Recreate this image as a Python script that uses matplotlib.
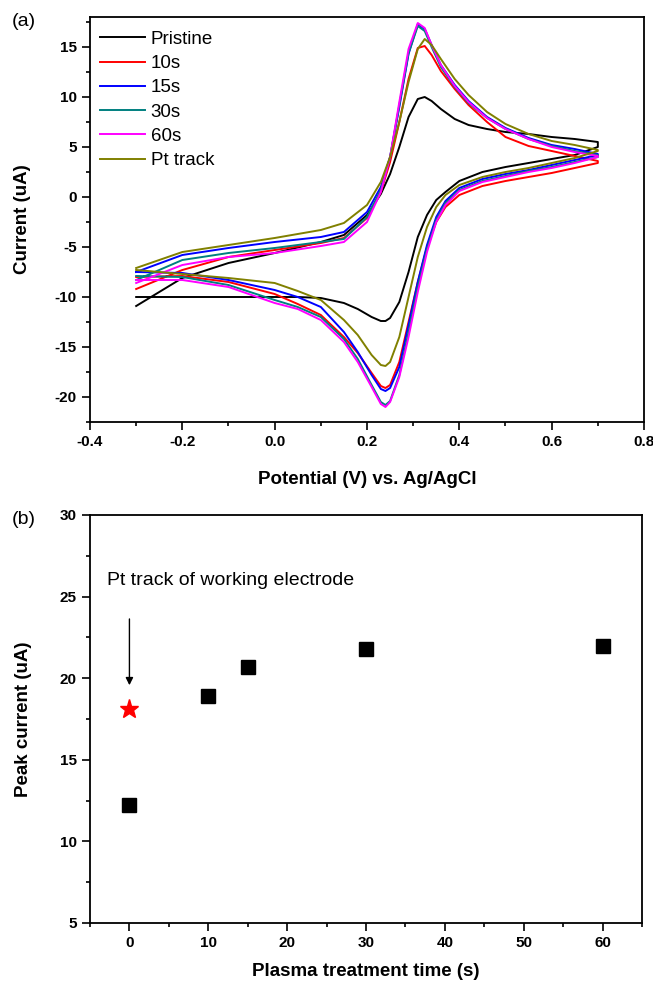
import matplotlib
matplotlib.use("Agg")
import matplotlib.pyplot as plt
from matplotlib.ticker import MultipleLocator

plt.rcParams['font.family'] = ['Liberation Sans', 'DejaVu Sans']

# ---------------- Panel (a): cyclic voltammograms ----------------
labels = ["Pristine", "10s", "15s", "30s", "60s", "Pt track"]
colors = ["#000000", "#FF0000", "#0000FF", "#008080", "#FF00FF", "#808000"]

# forward (anodic) scan potentials
fwd_x = [-0.3, -0.2, -0.1, 0.0, 0.1, 0.15, 0.2, 0.23, 0.25, 0.27, 0.29, 0.31,
         0.325, 0.34, 0.36, 0.39, 0.42, 0.46, 0.50, 0.55, 0.60, 0.65, 0.70]
# reverse (cathodic) scan potentials
rev_x = [0.70, 0.65, 0.60, 0.55, 0.50, 0.45, 0.40, 0.37, 0.35, 0.33, 0.31, 0.29,
         0.27, 0.25, 0.24, 0.23, 0.21, 0.18, 0.15, 0.10, 0.05, 0.0, -0.1, -0.2, -0.3]

pristine_fwd = [-10.9, -8.1, -6.6, -5.6, -4.5, -3.8, -1.8, 0.3, 2.3, 5.0, 8.0, 9.8,
                10.0, 9.6, 8.8, 7.8, 7.2, 6.8, 6.5, 6.3, 6.0, 5.8, 5.5]
pristine_rev = [5.0, 4.2, 3.8, 3.4, 3.0, 2.5, 1.6, 0.5, -0.3, -1.8, -4.0, -7.5,
                -10.5, -12.1, -12.4, -12.4, -12.0, -11.2, -10.6, -10.1, -10.0, -10.0, -10.0, -10.0, -10.0]

s10_fwd = [-9.2, -7.3, -6.0, -5.3, -4.6, -4.1, -2.1, 0.5, 3.5, 7.5, 11.8, 14.9,
           15.1, 14.2, 12.6, 10.8, 9.2, 7.5, 6.0, 5.1, 4.6, 4.1, 3.6]
s10_rev = [3.4, 2.9, 2.4, 2.0, 1.6, 1.1, 0.2, -1.0, -2.5, -5.0, -8.5, -12.5,
           -16.5, -18.8, -19.1, -18.9, -17.6, -15.6, -14.0, -11.8, -10.7, -9.7, -8.5, -7.9, -8.0]

s15_fwd = [-7.5, -5.8, -5.1, -4.5, -4.0, -3.5, -1.5, 1.0, 4.0, 9.0, 14.3, 17.3,
           16.8, 15.2, 13.2, 11.2, 9.6, 8.0, 6.9, 5.9, 5.2, 4.8, 4.3]
s15_rev = [4.2, 3.7, 3.2, 2.7, 2.3, 1.8, 0.9, -0.4, -2.0, -4.8, -8.5, -12.8,
           -17.0, -19.1, -19.4, -19.2, -17.8, -15.5, -13.5, -11.0, -10.0, -9.3, -8.3, -7.6, -7.5]

s30_fwd = [-8.3, -6.3, -5.6, -5.1, -4.5, -4.2, -2.0, 0.7, 4.0, 9.2, 14.4, 17.1,
           16.6, 15.0, 13.0, 11.0, 9.4, 7.9, 6.8, 5.8, 5.1, 4.6, 4.2]
s30_rev = [4.0, 3.5, 3.0, 2.6, 2.1, 1.6, 0.7, -0.6, -2.3, -5.2, -9.0, -13.5,
           -17.8, -20.4, -20.8, -20.5, -18.8, -16.2, -14.2, -12.0, -11.0, -10.3, -8.8, -8.0, -7.9]

s60_fwd = [-8.6, -6.8, -6.0, -5.6, -4.9, -4.5, -2.5, 0.5, 4.0, 9.5, 14.8, 17.4,
           16.9, 15.2, 13.2, 11.1, 9.5, 7.9, 6.8, 5.8, 5.0, 4.5, 4.1]
s60_rev = [4.0, 3.4, 2.9, 2.5, 2.0, 1.5, 0.6, -0.8, -2.5, -5.5, -9.5, -14.0,
           -18.0, -20.5, -21.0, -20.7, -19.0, -16.5, -14.5, -12.3, -11.2, -10.6, -9.0, -8.3, -8.3]

pt_fwd = [-7.1, -5.5, -4.8, -4.1, -3.3, -2.6, -0.8, 1.5, 4.0, 7.5, 11.5, 14.8,
          15.8, 15.2, 13.8, 11.8, 10.2, 8.5, 7.3, 6.3, 5.6, 5.2, 4.7]
pt_rev = [4.6, 3.9, 3.4, 2.9, 2.5, 2.0, 1.2, 0.2, -1.0, -3.0, -6.0, -10.0,
          -14.0, -16.5, -16.9, -16.8, -15.8, -13.8, -12.3, -10.3, -9.4, -8.6, -8.1, -7.7, -7.3]

fwd_all = [pristine_fwd, s10_fwd, s15_fwd, s30_fwd, s60_fwd, pt_fwd]
rev_all = [pristine_rev, s10_rev, s15_rev, s30_rev, s60_rev, pt_rev]

# ---------------- Panel (b): peak current ----------------
time_s = [0, 10, 15, 30, 60]
peak_uA = [12.2, 18.9, 20.7, 21.8, 22.0]
pt_time = [0]
pt_peak = [18.1]

W, H = 653, 982
fig = plt.figure(figsize=(W / 100, H / 100), dpi=100)

def ax_rect(l, r, t, b):
    return [l / W, 1 - b / H, (r - l) / W, (b - t) / H]

def style_axes(ax):
    for s in ax.spines.values():
        s.set_linewidth(1.3)
    ax.tick_params(which='both', direction='out', top=False, right=False, width=1.2)
    ax.tick_params(which='major', length=5.5, pad=4)
    ax.tick_params(which='minor', length=3)
    for lab in ax.get_xticklabels() + ax.get_yticklabels():
        lab.set_fontweight('bold')
        lab.set_fontsize(11)

# Panel (a)
ax1 = fig.add_axes(ax_rect(90, 644, 17, 422))
for lab, col, f, r in zip(labels, colors, fwd_all, rev_all):
    ax1.plot(fwd_x + rev_x, f + r, color=col, lw=1.4, label=lab)
ax1.set_xlim(-0.4, 0.8)
ax1.set_ylim(-22.5, 18)
ax1.xaxis.set_minor_locator(MultipleLocator(0.1))
ax1.yaxis.set_minor_locator(MultipleLocator(2.5))
ax1.set_xticks([-0.4, -0.2, 0.0, 0.2, 0.4, 0.6, 0.8])
ax1.set_xticklabels(["-0.4", "-0.2", "0.0", "0.2", "0.4", "0.6", "0.8"])
ax1.set_yticks([-20, -15, -10, -5, 0, 5, 10, 15])
ax1.set_yticklabels(["-20", "-15", "-10", "-5", "0", "5", "10", "15"])
style_axes(ax1)
ax1.set_xlabel("Potential (V) vs. Ag/AgCl", fontsize=13.5, fontweight='bold', labelpad=16)
ax1.set_ylabel("Current (uA)", fontsize=13.5, fontweight='bold')
ax1.yaxis.set_label_coords((31 - 90) / 554, 0.5)
leg = ax1.legend(loc='upper left', bbox_to_anchor=(0.018, 0.966), frameon=False,
                 fontsize=13.5, handlelength=2.4, handletextpad=0.3,
                 labelspacing=0.38, borderaxespad=0, borderpad=0)
fig.text(12 / W, 1 - 21 / H, "(a)", fontsize=14, va='center', ha='left')

# Panel (b)
ax2 = fig.add_axes(ax_rect(90, 642, 515, 923))
ax2.plot(time_s, peak_uA, linestyle='none', marker='s', markersize=10,
         color='black')
ax2.plot(pt_time, pt_peak, linestyle='none', marker='*', markersize=14,
         color='#FF0000')
ax2.set_xlim(-5, 65)
ax2.set_ylim(5, 30)
ax2.set_xticks([0, 10, 20, 30, 40, 50, 60])
ax2.set_xticklabels(["0", "10", "20", "30", "40", "50", "60"])
ax2.xaxis.set_minor_locator(MultipleLocator(5))
ax2.set_yticks([5, 10, 15, 20, 25, 30])
ax2.set_yticklabels(["5", "10", "15", "20", "25", "30"])
ax2.yaxis.set_minor_locator(MultipleLocator(2.5))
style_axes(ax2)
ax2.set_xlabel("Plasma treatment time (s)", fontsize=13.5, fontweight='bold', labelpad=9)
ax2.set_ylabel("Peak current (uA)", fontsize=13.5, fontweight='bold')
ax2.yaxis.set_label_coords((32 - 90) / 552, 0.5)
ax2.text(-2.8, 26.0, "Pt track of working electrode", fontsize=14, ha='left', va='center')
ax2.annotate("", xy=(0, 19.4), xytext=(0, 23.8),
             arrowprops=dict(arrowstyle='-|>', color='black', lw=1.0,
                             mutation_scale=11))
fig.text(12 / W, 1 - 519 / H, "(b)", fontsize=14, va='center', ha='left')

fig.savefig("out.png", dpi=100)
